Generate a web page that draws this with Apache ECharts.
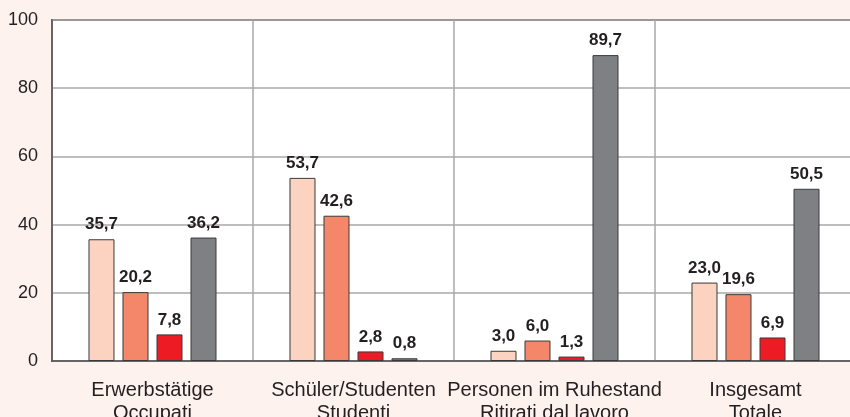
<!DOCTYPE html>
<html>
<head>
<meta charset="utf-8">
<script src="https://cdn.jsdelivr.net/npm/echarts@6/dist/echarts.min.js"></script>
<style>
html,body{margin:0;padding:0;background:#fdf2ed;}
#c{width:850px;height:417px;}
</style>
</head>
<body>
<div id="c"></div>
<script>
const categories = ["Erwerbstätige\nOccupati", "Schüler/Studenten\nStudenti", "Personen im Ruhestand\nRitirati dal lavoro", "Insgesamt\nTotale"];
const series1 = [35.7, 53.7, 3.0, 23.0];
const series2 = [20.2, 42.6, 6.0, 19.6];
const series3 = [7.8, 2.8, 1.3, 6.9];
const series4 = [36.2, 0.8, 89.7, 50.5];
const colors = ["#fcd3c0", "#f4876a", "#ed1c24", "#7f8084"];
const yTicks = [0, 20, 40, 60, 80, 100];

const chart = echarts.init(document.getElementById('c'), null, {renderer: 'canvas'});
const fmt = p => p.value.toFixed(1).replace('.', ',');
function mk(data, i) {
  return {
    type: 'bar',
    data: data,
    barWidth: 26,
    barGap: '30.77%',
    itemStyle: {color: colors[i], borderColor: '#3a3a3a', borderWidth: 1},
    label: {show: true, position: 'top', distance: 6, formatter: fmt,
      fontFamily: 'Liberation Sans, Arial, sans-serif', fontWeight: 'bold', fontSize: 17, color: '#231f20'},
    animation: false
  };
}
chart.setOption({
  backgroundColor: '#fdf2ed',
  animation: false,
  grid: {left: 52, top: 20, width: 804, height: 341, outerBoundsMode: 'none', containLabel: false,
    show: true, backgroundColor: '#ffffff', borderColor: '#6a6a6a', borderWidth: 2},
  xAxis: {
    type: 'category', data: categories,
    axisLine: {show: true, lineStyle: {color: '#555', width: 1.5}},
    axisTick: {show: false},
    splitLine: {show: true, lineStyle: {color: '#a8a8a8', width: 1.5}},
    axisLabel: {fontFamily: 'Liberation Sans, Arial, sans-serif', fontSize: 20, color: '#231f20', margin: 18, lineHeight: 23, interval: 0}
  },
  yAxis: {
    type: 'value', min: yTicks[0], max: yTicks[yTicks.length - 1], interval: 20,
    axisLine: {show: true, lineStyle: {color: '#555', width: 1.5}},
    axisTick: {show: false},
    splitLine: {show: true, lineStyle: {color: '#a8a8a8', width: 1.5}},
    axisLabel: {fontFamily: 'Liberation Sans, Arial, sans-serif', fontSize: 18, color: '#231f20', margin: 14}
  },
  series: [mk(series1, 0), mk(series2, 1), mk(series3, 2), mk(series4, 3)]
});
</script>
</body>
</html>
